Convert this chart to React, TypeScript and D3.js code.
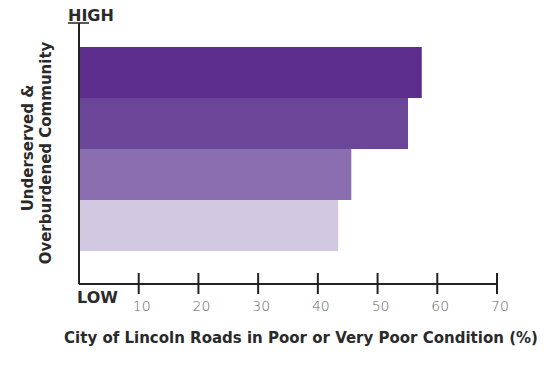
import React from 'react';
import * as d3 from 'd3';

// bars from highest burden (top) to lowest (bottom)
const levels = ['Highest', 'High', 'Low', 'Lowest'];
const poorPct = [57.4, 55.1, 45.6, 43.4];
const barColors = ['#5c2d8c', '#6a4598', '#8a6eb0', '#d3c8e2'];
const xTicks = [10, 20, 30, 40, 50, 60, 70];

const x_label = 'City of Lincoln Roads in Poor or Very Poor Condition (%)';
const y_label1 = 'Underserved &';
const y_label2 = 'Overburdened Community';

const W = 557;
const H = 365;
const font = "'DejaVu Sans', sans-serif";

export default function App() {
    const xScale = d3.scaleLinear().domain([0, 70]).range([79, 497]);
    const yScale = d3.scaleBand<string>().domain(levels).range([47, 251]).padding(0);
    const axisY = 284;
    const axisTop = 23;

    return (
        <svg width={W} height={H} style={{ position: 'absolute', left: 0, top: 0, background: '#fff' }}>
            {/* bars */}
            {levels.map((lv, i) => (
                <rect
                    key={lv}
                    x={xScale(0)}
                    y={yScale(lv)!}
                    width={xScale(poorPct[i]) - xScale(0)}
                    height={yScale.bandwidth()}
                    fill={barColors[i]}
                />
            ))}

            {/* y axis */}
            <line x1={xScale(0)} x2={xScale(0)} y1={axisTop} y2={axisY} stroke="#222" strokeWidth={2} />
            <line x1={68} x2={89} y1={axisTop} y2={axisTop} stroke="#222" strokeWidth={1.5} />
            <text x={68} y={21} fontFamily={font} fontWeight={700} fontSize={16} fill="#2a2a2a">HIGH</text>

            {/* x axis */}
            <line x1={xScale(0)} x2={xScale(70)} y1={axisY} y2={axisY} stroke="#222" strokeWidth={2} />
            {xTicks.map(t => (
                <g key={t}>
                    <line x1={xScale(t)} x2={xScale(t)} y1={axisY - 11} y2={axisY + 10} stroke="#222" strokeWidth={2} />
                    <text x={xScale(t) + 3} y={311} textAnchor="middle" fontFamily={font} fontWeight={300} fontSize={14} fill="#666">{t}</text>
                </g>
            ))}
            <text x={77} y={303} fontFamily={font} fontWeight={700} fontSize={16} fill="#2a2a2a">LOW</text>

            {/* axis titles */}
            <text x={301} y={343} textAnchor="middle" fontFamily={font} fontWeight={700} fontSize={15} fill="#2a2a2a">{x_label}</text>
            <g transform={`translate(33, 148) rotate(-90)`}>
                <text x={0} y={0} textAnchor="middle" fontFamily={font} fontWeight={700} fontSize={15} fill="#2a2a2a">{y_label1}</text>
            </g>
            <g transform={`translate(51, 153) rotate(-90)`}>
                <text x={0} y={0} textAnchor="middle" fontFamily={font} fontWeight={700} fontSize={15} fill="#2a2a2a">{y_label2}</text>
            </g>
        </svg>
    );
}
